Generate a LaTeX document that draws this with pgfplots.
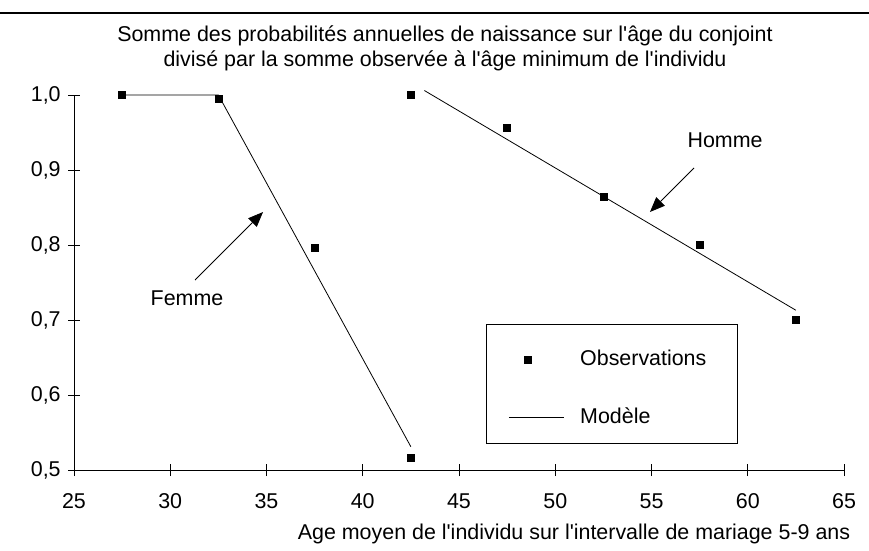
\documentclass[border=0pt]{standalone}
\usepackage{fontspec}
\setmainfont{Liberation Sans}
\usepackage{pgfplots}
\pgfplotsset{compat=1.18}
\usetikzlibrary{arrows.meta}
\pgfplotsset{
  obsleg/.style={legend image code/.code={\path[draw=none] (0,0) -- (55bp,0); \draw[##1, only marks] plot coordinates {(19bp,0)};}},
  modleg/.style={legend image code/.code={\draw[##1] (0,0) -- (55bp,0);}},
}
\newcommand{\q}{\textquotesingle}

\begin{document}
\fontsize{21.5}{25}\selectfont
\begin{tikzpicture}
\useasboundingbox (0,0) rectangle (869bp,-551bp);
\draw[line width=2bp] (0,-13bp) -- (869bp,-13bp);
\node at (445bp,-36bp) {Somme des probabilités annuelles de naissance sur l\q âge du conjoint};
\node at (445bp,-61bp) {divisé par la somme observée à l\q âge minimum de l\q individu};
\begin{axis}[
  at={(74bp,-470bp)}, anchor=south west,
  scale only axis, width=770bp, height=375bp,
  xmin=25, xmax=65, ymin=0.5, ymax=1.0,
  axis lines*=left,
  axis line style={line width=0.9bp},
  xtick={25,30,...,65},
  ytick={0.5,0.6,0.7,0.8,0.9,1.0},
  tick align=center,
  major tick length=12bp,
  tick style={black, line width=0.9bp},
  /pgf/number format/assume math mode=true,
  yticklabel style={/pgf/number format/.cd, fixed, fixed zerofill, precision=1, use comma},
  xticklabel style={yshift=-10bp},
  tick label style={font=\fontsize{21.5}{25}\selectfont},
  clip=false,
  legend style={draw=none, fill=none, at={(rel axis cs:0.56,0.331)}, anchor=north west,
    row sep=35bp, column sep=14bp, font=\fontsize{21.5}{25}\selectfont},
  legend cell align=left,
]
% Observations
\addplot[only marks, mark=square*, mark size=3.5bp, black, obsleg]
  coordinates {(27.5,1.000) (32.5,0.995) (37.5,0.797) (42.5,0.517)};
\addlegendentry{Observations}
\addplot[only marks, mark=square*, mark size=3.5bp, black, forget plot]
  coordinates {(42.5,1.000) (47.5,0.956) (52.5,0.864) (57.5,0.800) (62.5,0.700)};
% Modele
\addplot[black, line width=0.8bp, mark=none, modleg]
  coordinates {(27.5,1.0) (32.5,1.0) (42.5,0.531)};
\addlegendentry{Modèle}
\addplot[black, line width=0.8bp, mark=none, forget plot]
  coordinates {(43.2,1.006) (62.5,0.713)};
% legend box
\draw[line width=0.9bp] (axis cs:46.45,0.6947) rectangle (axis cs:59.44,0.536);
% annotations
\node at (axis cs:30.87,0.729) {Femme};
\draw[line width=0.9bp, -{Triangle[length=15bp,width=12bp]}] (axis cs:31.29,0.7533) -- (axis cs:34.82,0.844);
\node at (axis cs:58.82,0.94) {Homme};
\draw[line width=0.9bp, -{Triangle[length=15bp,width=12bp]}] (axis cs:57.21,0.9027) -- (axis cs:54.92,0.844);
\end{axis}
\node at (574bp,-534bp) {Age moyen de l\q individu sur l\q intervalle de mariage 5-9 ans};
\end{tikzpicture}
\end{document}
